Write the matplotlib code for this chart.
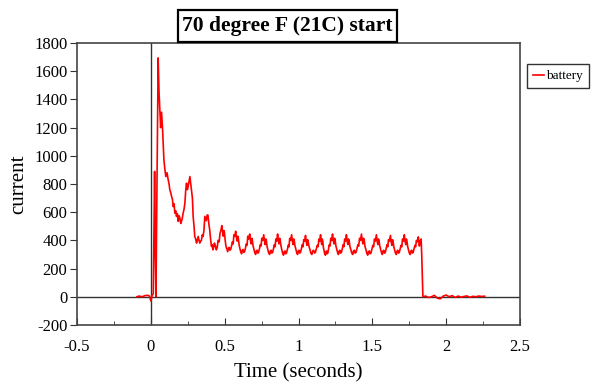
import numpy as np
import matplotlib
matplotlib.use("Agg")
import matplotlib.pyplot as plt
from matplotlib.patches import Rectangle
from matplotlib.ticker import MultipleLocator

# ---------------------------------------------------------
# Data (time in seconds, current)
# ---------------------------------------------------------
time_pre = [-0.095, -0.08, -0.06, -0.04, -0.02, -0.01, 0.0, 0.008, 0.016]
curr_pre = [0, 5, 0, 8, 10, 5, -30, 10, 20]

time_surge = [0.025, 0.030, 0.034, 0.040, 0.049, 0.055, 0.061, 0.066, 0.072, 0.079,
              0.088, 0.095, 0.101, 0.109, 0.117, 0.123, 0.128, 0.134, 0.140, 0.146,
              0.151, 0.157, 0.162, 0.168, 0.173, 0.179, 0.185, 0.190, 0.196, 0.202,
              0.207, 0.213, 0.218, 0.224, 0.230, 0.236, 0.241, 0.247, 0.252, 0.258,
              0.264, 0.270, 0.275, 0.281, 0.286, 0.292, 0.297, 0.303, 0.309, 0.314,
              0.320, 0.326, 0.331, 0.337, 0.342, 0.348, 0.353, 0.359, 0.365, 0.370,
              0.375, 0.381, 0.386, 0.392, 0.398, 0.404, 0.410, 0.415, 0.420, 0.425,
              0.430, 0.437, 0.443, 0.449, 0.455, 0.462, 0.468, 0.474]
curr_surge = [889, 300, 0, 700, 1695, 1450, 1305, 1200, 1310, 1184,
              971, 900, 853, 880, 830, 800, 759, 740, 711, 690,
              640, 660, 593, 610, 570, 590, 535, 575, 560, 520,
              535, 560, 593, 620, 664, 760, 806, 760, 783, 820,
              853, 800, 759, 700, 570, 500, 428, 410, 381, 400,
              428, 400, 381, 395, 400, 440, 428, 470, 570, 555,
              540, 580, 580, 520, 475, 410, 357, 370, 333, 350,
              381, 360, 333, 350, 400, 390, 450, 470]

time_osc = [0.480, 0.485, 0.490, 0.494, 0.498, 0.503, 0.508, 0.514, 0.520, 0.525,
            0.530, 0.535, 0.540, 0.546, 0.552, 0.557, 0.562, 0.568,
            0.574, 0.579, 0.584, 0.588, 0.592, 0.597, 0.602, 0.608, 0.614, 0.619,
            0.624, 0.629, 0.634, 0.640, 0.646, 0.651, 0.656, 0.662,
            0.669, 0.674, 0.679, 0.683, 0.687, 0.692, 0.697, 0.703, 0.709, 0.714,
            0.719, 0.724, 0.729, 0.735, 0.741, 0.746, 0.751, 0.757,
            0.764, 0.769, 0.774, 0.778, 0.782, 0.787, 0.792, 0.798, 0.804, 0.809,
            0.814, 0.819, 0.824, 0.830, 0.836, 0.841, 0.846, 0.852,
            0.858, 0.863, 0.868, 0.872, 0.876, 0.881, 0.886, 0.892, 0.898, 0.903,
            0.908, 0.913, 0.918, 0.924, 0.930, 0.935, 0.940, 0.946,
            0.953, 0.958, 0.963, 0.967, 0.971, 0.976, 0.981, 0.987, 0.993, 0.998,
            1.003, 1.008, 1.013, 1.019, 1.025, 1.030, 1.035, 1.041,
            1.047, 1.052, 1.057, 1.061, 1.065, 1.071, 1.077, 1.083, 1.090, 1.096,
            1.102, 1.108, 1.114, 1.120, 1.127, 1.132, 1.138, 1.143,
            1.149, 1.153, 1.157, 1.160, 1.164, 1.168, 1.172, 1.177, 1.182, 1.186,
            1.190, 1.194, 1.198, 1.203, 1.208, 1.213, 1.218, 1.224,
            1.230, 1.235, 1.240, 1.244, 1.248, 1.253, 1.258, 1.264, 1.270, 1.275,
            1.280, 1.285, 1.290, 1.296, 1.302, 1.307, 1.312, 1.318,
            1.324, 1.329, 1.334, 1.338, 1.343, 1.348, 1.354, 1.360, 1.367, 1.372,
            1.378, 1.383, 1.389, 1.395, 1.402, 1.407, 1.413, 1.419,
            1.426, 1.431, 1.436, 1.440, 1.445, 1.450, 1.456, 1.462, 1.468, 1.473,
            1.479, 1.484, 1.490, 1.496, 1.503, 1.508, 1.514, 1.520,
            1.527, 1.532, 1.537, 1.541, 1.545, 1.550, 1.555, 1.561, 1.567, 1.572,
            1.577, 1.582, 1.587, 1.593, 1.599, 1.604, 1.609, 1.615,
            1.622, 1.627, 1.632, 1.636, 1.640, 1.645, 1.650, 1.656, 1.662, 1.667,
            1.672, 1.677, 1.682, 1.688, 1.694, 1.699, 1.704, 1.710,
            1.716, 1.721, 1.726, 1.730, 1.734, 1.739, 1.744, 1.750, 1.756, 1.761,
            1.766, 1.771, 1.776, 1.782, 1.788, 1.793, 1.798, 1.804]
curr_osc = [505, 470, 430, 470, 455, 400, 360, 340, 320, 345,
            350, 330, 335, 360, 390, 375, 440, 430,
            465, 420, 395, 430, 415, 370, 345, 320, 305, 330,
            335, 315, 320, 345, 375, 365, 430, 410,
            445, 400, 375, 415, 400, 360, 340, 315, 300, 325,
            330, 310, 315, 340, 370, 360, 415, 400,
            440, 395, 370, 410, 395, 355, 335, 310, 300, 325,
            330, 310, 315, 340, 370, 355, 410, 395,
            445, 400, 375, 415, 400, 360, 335, 310, 295, 320,
            325, 305, 310, 335, 365, 355, 415, 400,
            440, 395, 370, 410, 395, 360, 340, 315, 300, 325,
            330, 310, 315, 340, 370, 355, 405, 395,
            435, 390, 365, 405, 390, 355, 335, 310, 300, 325,
            330, 310, 315, 340, 365, 355, 410, 395,
            440, 395, 370, 410, 395, 350, 330, 305, 295, 320,
            325, 305, 310, 340, 370, 360, 415, 400,
            445, 400, 375, 415, 400, 360, 340, 315, 300, 325,
            330, 310, 315, 340, 370, 355, 410, 395,
            440, 395, 370, 410, 395, 355, 335, 310, 300, 325,
            330, 310, 315, 340, 370, 360, 415, 400,
            445, 400, 375, 415, 400, 355, 335, 310, 295, 320,
            325, 305, 310, 335, 365, 355, 410, 395,
            440, 395, 370, 410, 395, 360, 340, 315, 300, 325,
            330, 310, 315, 340, 370, 355, 405, 395,
            435, 390, 365, 405, 390, 355, 335, 310, 300, 325,
            330, 310, 315, 340, 365, 355, 410, 395,
            440, 395, 370, 410, 395, 355, 335, 310, 300, 325,
            330, 310, 315, 340, 365, 355, 400, 390]

time_end = [1.811, 1.818, 1.824, 1.830, 1.834, 1.838, 1.842, 1.86, 1.88, 1.90,
            1.92, 1.94, 1.96, 1.98, 2.00, 2.02, 2.04, 2.06, 2.08, 2.10,
            2.12, 2.14, 2.16, 2.18, 2.20, 2.22, 2.24, 2.26]
curr_end = [425, 360, 395, 410, 300, 150, 0, 5, -5, 0,
            10, -10, -15, 5, 12, 0, 8, -5, 5, -3,
            2, 6, -4, 3, 0, 5, 2, 4]

time_s = time_pre + time_surge + time_osc + time_end
current = curr_pre + curr_surge + curr_osc + curr_end

plt.rcParams['font.family'] = ['Liberation Serif', 'DejaVu Serif']
plt.rcParams['axes.unicode_minus'] = False


def main():
    fig = plt.figure(figsize=(5.93, 3.85), dpi=100)
    ax = fig.add_axes([0.130, 0.156, 0.747, 0.732])

    ax.axhline(0, color="#333333", lw=1.0, zorder=1)
    ax.axvline(0, color="#333333", lw=1.0, zorder=1)
    ax.plot(time_s, current, color="red", lw=1.2, label="battery", zorder=2)

    ax.set_xlim(-0.5, 2.5)
    ax.set_ylim(-200, 1800)
    ax.xaxis.set_minor_locator(MultipleLocator(0.25))
    ax.yaxis.set_major_locator(MultipleLocator(200))
    ax.set_xticks(np.arange(-0.5, 2.51, 0.5))
    ax.set_xticklabels(["-0.5", "0", "0.5", "1", "1.5", "2", "2.5"])

    ax.tick_params(axis="x", which="both", direction="in", top=False,
                   labelsize=12, pad=10, color="#333333")
    ax.tick_params(axis="x", which="major", length=5)
    ax.tick_params(axis="x", which="minor", length=3)
    ax.tick_params(axis="y", direction="out", right=False, length=5,
                   labelsize=12, pad=2, color="#333333")
    for sp in ax.spines.values():
        sp.set_color("#444444")
        sp.set_linewidth(1.2)

    ax.set_xlabel("Time (seconds)", fontsize=15, labelpad=6)
    ax.set_ylabel("current", fontsize=15, labelpad=4)

    # title sits in its own box right on top of the frame
    fig.patches.append(Rectangle((0.300, 0.891), 0.369, 0.083,
                                 transform=fig.transFigure, fc="white",
                                 ec="black", lw=1.6, zorder=3))
    fig.text(0.485, 0.932, "70 degree F (21C) start", fontsize=15.5,
             fontweight="bold", ha="center", va="center", zorder=4)

    fig.legend(loc="upper left", bbox_to_anchor=(0.888, 0.833), fontsize=9.5,
               frameon=True, fancybox=False, edgecolor="black",
               handlelength=0.9, handletextpad=0.15, borderpad=0.45,
               borderaxespad=0)

    fig.savefig("out.png", dpi=100)


if __name__ == "__main__":
    main()
